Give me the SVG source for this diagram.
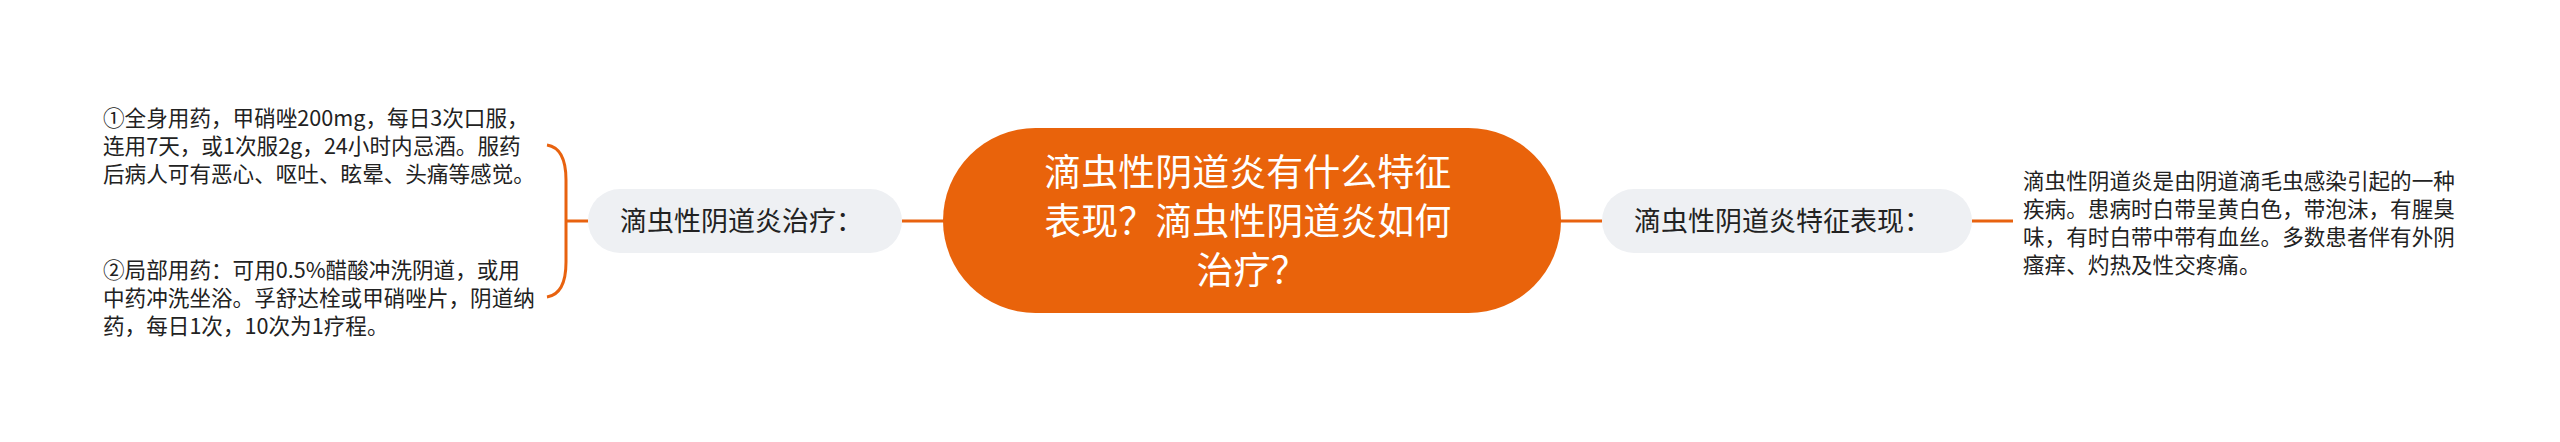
<svg xmlns="http://www.w3.org/2000/svg" width="2560" height="442" viewBox="0 0 2560 442">
<style>
.conn{fill:none;stroke:#e8620f;stroke-width:3}
.pill{fill:#eef0f3}
.lbl{font-family:"Noto Sans CJK SC","Noto Sans",sans-serif;fill:#222;font-size:27px}
.body{font-family:"Noto Sans CJK SC","Noto Sans",sans-serif;fill:#222;font-size:21.6px}
.root{font-family:"Noto Sans CJK SC","Noto Sans",sans-serif;fill:#fff;font-size:37px}
</style>
<rect width="2560" height="442" fill="#fff"/>
<g id="connectors">
<path class="conn" d="M547,145 Q566,148 566,180 L566,262 Q566,294 547,297"/>
<path class="conn" d="M566,221 L588,221"/>
<path class="conn" d="M902,221 L944,221"/>
<path class="conn" d="M1560,221 L1602,221"/>
<path class="conn" d="M1972,221 L2013,221"/>
</g>
<g id="root">
<rect x="943" y="128" width="618" height="185" rx="92.5" fill="#e9630b"/>
<text class="root" text-anchor="middle">
<tspan x="1252" y="186">滴虫性阴道炎有什么特征</tspan>
<tspan x="1252" y="235">表现？滴虫性阴道炎如何</tspan>
<tspan x="1252" y="284">治疗？</tspan>
</text>
</g>
<g id="treatment">
<rect class="pill" x="588" y="189" width="314" height="64" rx="32"/>
<text class="lbl" x="620" y="231.3">滴虫性阴道炎治疗：</text>
</g>
<g id="treatment-1">
<text class="body">
<tspan x="103" y="126.2">①全身用药，甲硝唑200mg，每日3次口服，</tspan>
<tspan x="103" y="154.2">连用7天，或1次服2g，24小时内忌酒。服药</tspan>
<tspan x="103" y="182.2">后病人可有恶心、呕吐、眩晕、头痛等感觉。</tspan>
</text>
</g>
<g id="treatment-2">
<text class="body">
<tspan x="103" y="277.7">②局部用药：可用0.5%醋酸冲洗阴道，或用</tspan>
<tspan x="103" y="305.7">中药冲洗坐浴。孚舒达栓或甲硝唑片，阴道纳</tspan>
<tspan x="103" y="333.7">药，每日1次，10次为1疗程。</tspan>
</text>
</g>
<g id="features">
<rect class="pill" x="1602" y="189" width="370" height="64" rx="32"/>
<text class="lbl" x="1634" y="231.3">滴虫性阴道炎特征表现：</text>
</g>
<g id="features-1">
<text class="body">
<tspan x="2023" y="189.2">滴虫性阴道炎是由阴道滴毛虫感染引起的一种</tspan>
<tspan x="2023" y="217.2">疾病。患病时白带呈黄白色，带泡沫，有腥臭</tspan>
<tspan x="2023" y="245.2">味，有时白带中带有血丝。多数患者伴有外阴</tspan>
<tspan x="2023" y="273.2">瘙痒、灼热及性交疼痛。</tspan>
</text>
</g>
</svg>
